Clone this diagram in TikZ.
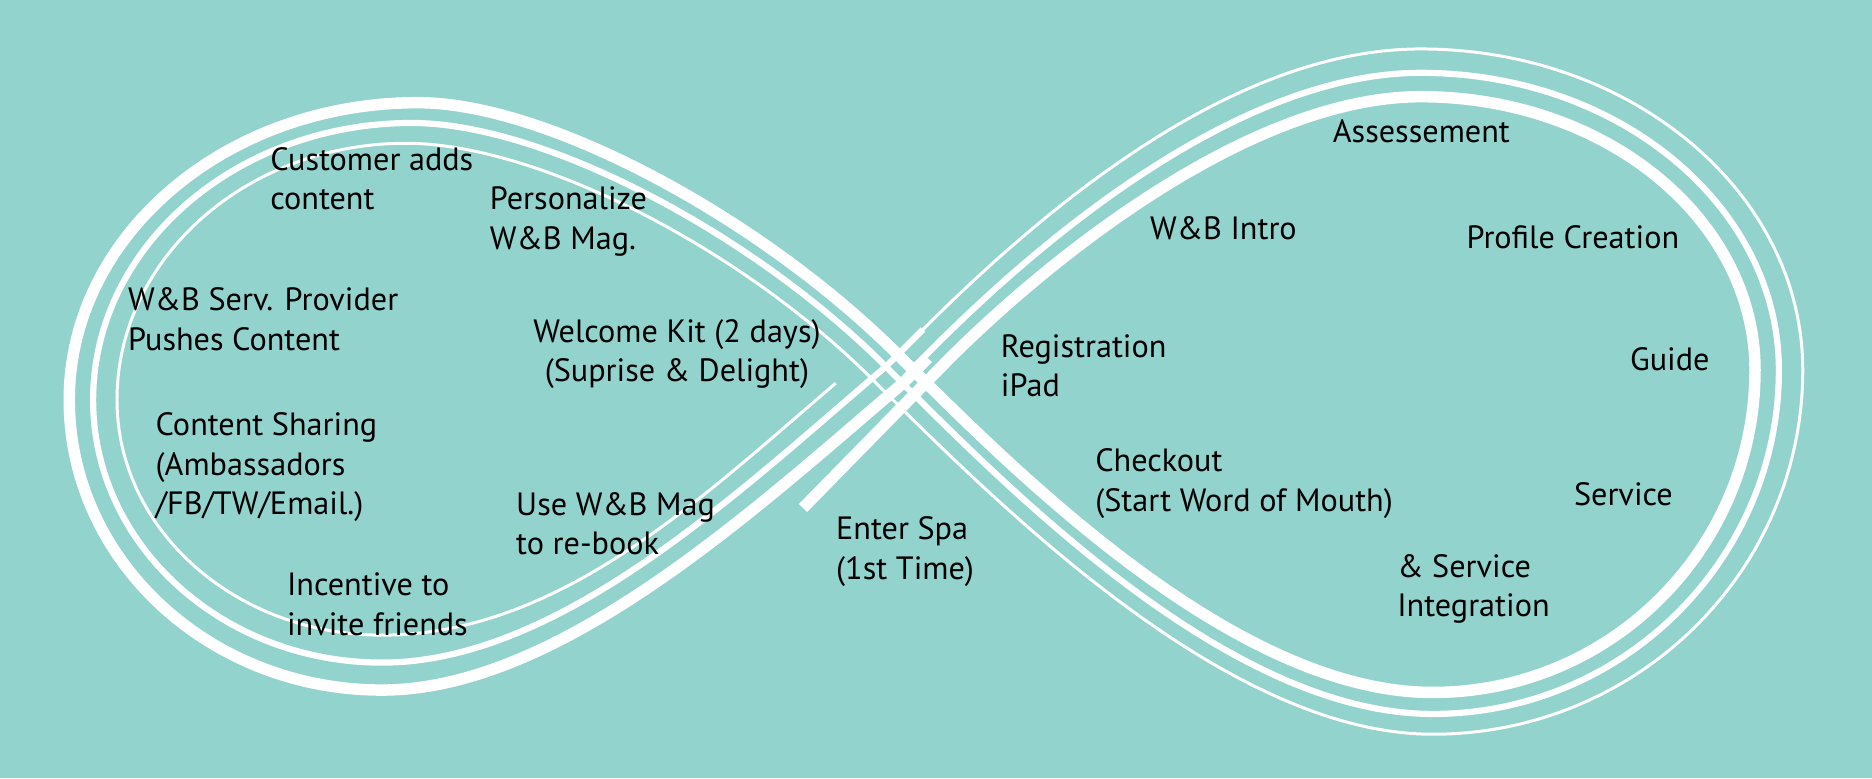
\documentclass[tikz,border=0pt]{standalone}
\usepackage{fontspec}
\setmainfont{PT Sans}
\definecolor{bg}{RGB}{146,211,205}
\begin{document}
\begin{tikzpicture}[x=0.5pt,y=-0.5pt,
  lbl/.style={font=\fontsize{13.5}{16.5}\selectfont, inner sep=0pt, align=left, anchor=west, text=black},
  lblc/.style={lbl, align=center, anchor=center},
  thickline/.style={draw=white, line width=4.8pt},
  midline/.style={draw=white, line width=2.6pt},
  thinline/.style={draw=white, line width=1.25pt}]
\fill[bg] (0,0) rectangle (1568,652);
\useasboundingbox (0,0) rectangle (1568,652);
% thick line: inner of right loop, outer of left loop
\draw[thickline] (672.6,425.5) -- (794.3,301.3) .. controls (884.3,211.3) and (1050,81) .. (1190,81)
  .. controls (1344.6,81) and (1470,183.5) .. (1470,310)
  .. controls (1470,459.1) and (1349.1,580) .. (1200,580)
  .. controls (1035,580) and (852,397) .. (752,297)
  .. controls (640,185) and (460,86) .. (350,86)
  .. controls (188.7,86) and (58,197.5) .. (58,335)
  .. controls (58,469.2) and (175.3,578) .. (320,578)
  .. controls (470,578) and (636.1,423.1) .. (756.1,321.1) -- (777.3,299.9);
% middle line
\draw[midline] (761.1,311.9) -- (783,290) .. controls (878,195) and (1040,61) .. (1190,61)
  .. controls (1355.7,61) and (1490,172.5) .. (1490,310)
  .. controls (1490,468) and (1360,598) .. (1200,598)
  .. controls (1030,598) and (847,412) .. (742,307)
  .. controls (630,195) and (455,103) .. (345,103)
  .. controls (197.5,103) and (78,206.9) .. (78,335)
  .. controls (78,456.5) and (186.3,555) .. (320,555)
  .. controls (470,555) and (622,409) .. (742,307) -- (773.1,275.9);
% thin line: outer of right loop, inner of left loop
\draw[thinline] (771,278) .. controls (871,178) and (1030,41) .. (1190,41)
  .. controls (1366.7,41) and (1510,161.4) .. (1510,310)
  .. controls (1510,478.4) and (1371.2,615) .. (1200,615)
  .. controls (1030,615) and (841,428) .. (731,318)
  .. controls (621,208) and (450,120) .. (340,120)
  .. controls (206.3,120) and (98,216.3) .. (98,335)
  .. controls (98,443.8) and (197.4,532) .. (320,532)
  .. controls (470,532) and (590,414.5) .. (700,321);
% labels
\node[lbl] (cust) at (226,149.5) {Customer adds\\content};
\node[lbl] (pers) at (410,185.5) {Personalize\\W\&B Mag.};
\node[lbl] (serv) at (107,267.5) {W\&B Serv. Provider\\Pushes Content};
\node[lblc] (welc) at (567,296.5) {Welcome Kit (2 days)\\(Suprise \& Delight)};
\node[lbl] (share) at (130,391.5) {Content Sharing\\(Ambassadors\\/FB/TW/Email.)};
\node[lbl] (use) at (432,438.5) {Use W\&B Mag\\to re-book};
\node[lbl] (inc) at (240,506) {Incentive to\\invite friends};
\node[lbl] (enter) at (700,462) {Enter Spa\\(1st Time)};
\node[lbl] (reg) at (838,306.5) {Registration\\iPad};
\node[lbl] (intro) at (963,191) {W\&B Intro};
\node[lbl] (assess) at (1116,110) {Assessement};
\node[lbl] (prof) at (1228,199) {Profile Creation};
\node[lbl] (guide) at (1365,301) {Guide};
\node[lbl] (check) at (917,405) {Checkout\\(Start Word of Mouth)};
\node[lbl] (service) at (1318,414) {Service};
\node[lbl] (integ) at (1170,493.5) {\& Service\\Integration};
\end{tikzpicture}
\end{document}
